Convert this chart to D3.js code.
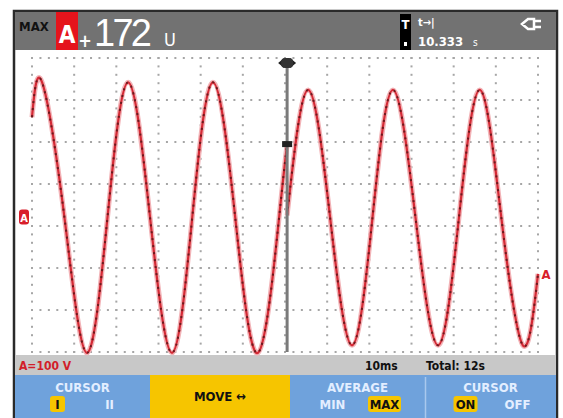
<!DOCTYPE html>
<html><head><meta charset="utf-8">
<script src="https://cdn.jsdelivr.net/npm/d3@7"></script>
<style>html,body{margin:0;padding:0;background:#fff;}svg{display:block;}</style>
</head><body>
<svg id="c" width="563" height="418"></svg>
<script>
// ---- data ----
// trace before the cursor (time in ms, voltage in V)
const traceA_t = [0, 2.4, 7.7, 13.0, 17.9, 22.8, 28.0, 33.2, 38.0, 42.9, 48.2, 53.6, 58.6, 60.5];
const traceA_v = [239, 322, 0, -322, 0, 322, 0, -322, 0, 322, 0, -322, 0, 175];
// trace after the cursor
const traceB_t = [60.5, 65.5, 70.7, 75.9, 80.75, 85.6, 90.95, 96.3, 101.25, 106.2, 111.3, 116.4, 120];
const traceB_v = [5, 304, 0, -304, 0, 304, 0, -304, 0, 304, 0, -304, -134];
const cursorTime = 60.5;
const timeTicks = [0,10,20,30,40,50,60,70,80,90,100,110,120];
const voltTicks = [380,280,180,80,-20,-120,-220,-320];
const headerLabels = {mode:"MAX", ch:"A", sign:"+", value:"172", unit:"U", tlabel:"t\u2192|", tvalue:"10.333", tunit:"s"};
const statusLabels = {scale:"A=100 V", timebase:"10ms", total:"Total: 12s"};
const softkeys = [
  {top:"CURSOR", opts:["I","II"], sel:0},
  {main:"MOVE \u2194"},
  {top:"AVERAGE", opts:["MIN","MAX"], sel:1},
  {top:"CURSOR", opts:["ON","OFF"], sel:0}
];

const svg = d3.select("#c");
const x = d3.scaleLinear().domain([0,120]).range([32,538]);
const y = d3.scaleLinear().domain([-320,380]).range([352,58]);

const F = "'DejaVu Sans Condensed','Liberation Sans Narrow',sans-serif";

// outer frame
svg.append("rect").attr("x",14).attr("y",11).attr("width",543).attr("height",410).attr("fill","#fff").attr("stroke","#2a2a2a").attr("stroke-width",2.5);
// header
svg.append("rect").attr("x",15).attr("y",12).attr("width",541).attr("height",38).attr("fill","#727272");
// status bar
svg.append("rect").attr("x",15).attr("y",355).attr("width",541).attr("height",20).attr("fill","#c8c8c8");
// softkey bar
const segs = [[15,150],[150,290],[290,425],[425,556]];
segs.forEach((s,i)=>{
  svg.append("rect").attr("x",s[0]).attr("y",375).attr("width",s[1]-s[0]).attr("height",43)
    .attr("fill", i===1 ? "#f6c500" : "#6fa2dc");
});
svg.append("line").attr("x1",425.5).attr("x2",425.5).attr("y1",377).attr("y2",418).attr("stroke","#a9c8ee").attr("stroke-width",1.5);

// grid dots
const g = svg.append("g");
const step = (x(10)-x(0))/5;
timeTicks.forEach(t=>{
  const xx = x(t);
  for(let yy=y(380); yy<=y(-320)+0.5; yy+= (y(280)-y(380))/5){
    g.append("rect").attr("x",xx-1).attr("y",yy-1).attr("width",2).attr("height",2).attr("fill","#a6a6a6");
  }
});
voltTicks.forEach(v=>{
  const yy = y(v);
  for(let xx=x(0); xx<=x(120)+0.5; xx+=step){
    g.append("rect").attr("x",xx-1).attr("y",yy-1).attr("width",2).attr("height",2).attr("fill","#a6a6a6");
  }
});

// traces
const line = d3.line().x(d=>x(d[0])).y(d=>y(d[1])).curve(d3.curveNatural);
const A = traceA_t.map((t,i)=>[t,traceA_v[i]]);
const B = traceB_t.map((t,i)=>[t,traceB_v[i]]);
[A,B].forEach(d=>{
  svg.append("path").attr("d",line(d)).attr("fill","none").attr("stroke","#f2b3b7").attr("stroke-width",5);
  svg.append("path").attr("d",line(d)).attr("fill","none").attr("stroke","#d42a35").attr("stroke-width",2.2);
  svg.append("path").attr("d",line(d)).attr("fill","none").attr("stroke","#6b1a1e").attr("stroke-width",2).attr("stroke-dasharray","2,5");
});

// cursor
const cx = x(cursorTime);
svg.append("line").attr("x1",cx).attr("x2",cx).attr("y1",y(380)+4).attr("y2",y(-320)).attr("stroke","#7a7a7a").attr("stroke-width",3);
svg.append("path").attr("d",`M${cx-9},${63} L${cx-3},${58} L${cx-3},${68} Z M${cx+9},${63} L${cx+3},${58} L${cx+3},${68} Z`).attr("fill","#222");
svg.append("rect").attr("x",cx-6).attr("y",58).attr("width",12).attr("height",10).attr("rx",4).attr("fill","#333");
svg.append("rect").attr("x",cx-5).attr("y",y(175)-3).attr("width",10).attr("height",6).attr("fill","#222");

// ground markers
svg.append("rect").attr("x",19).attr("y",y(0)-8).attr("width",10).attr("height",15).attr("rx",3).attr("fill","#d81e2a");
svg.append("text").attr("x",24).attr("y",y(0)+4).attr("text-anchor","middle").attr("font-family",F).attr("font-weight","bold").attr("font-size",11).attr("fill","#fff").text("A");
svg.append("text").attr("x",546).attr("y",y(-134)+5).attr("text-anchor","middle").attr("font-family",F).attr("font-weight","bold").attr("font-size",13).attr("fill","#d81e2a").text("A");

// header text
svg.append("text").attr("x",19).attr("y",31).attr("font-family",F).attr("font-weight","bold").attr("font-size",13).attr("fill","#111").text(headerLabels.mode);
svg.append("rect").attr("x",56).attr("y",12).attr("width",22).attr("height",38).attr("fill","#e5141c");
svg.append("text").attr("x",67).attr("y",43).attr("text-anchor","middle").attr("font-family",F).attr("font-weight","bold").attr("font-size",24).attr("fill","#fff").text(headerLabels.ch);
svg.append("text").attr("x",85).attr("y",47).attr("text-anchor","middle").attr("font-family",F).attr("font-weight","bold").attr("font-size",18).attr("fill","#fff").text(headerLabels.sign);
svg.append("text").attr("x",94).attr("y",46).attr("font-family","'Liberation Sans Narrow',sans-serif").attr("font-size",38).attr("fill","#fff").attr("textLength",58).text(headerLabels.value);
svg.append("text").attr("x",164).attr("y",46).attr("font-family",F).attr("font-size",18).attr("fill","#fff").text(headerLabels.unit);
svg.append("rect").attr("x",400).attr("y",14).attr("width",11).attr("height",36).attr("fill","#000");
svg.append("text").attr("x",405.5).attr("y",29).attr("text-anchor","middle").attr("font-family",F).attr("font-weight","bold").attr("font-size",13).attr("fill","#fff").text("T");
svg.append("rect").attr("x",404).attr("y",42).attr("width",3).attr("height",4).attr("fill","#fff");
svg.append("text").attr("x",418).attr("y",26).attr("font-family",F).attr("font-weight","bold").attr("font-size",11).attr("fill","#fff").text(headerLabels.tlabel);
svg.append("text").attr("x",418).attr("y",46).attr("font-family",F).attr("font-weight","bold").attr("font-size",13).attr("fill","#fff").text(headerLabels.tvalue);
svg.append("text").attr("x",473).attr("y",46).attr("font-family",F).attr("font-size",10).attr("fill","#fff").text(headerLabels.tunit);
// plug icon
svg.append("path").attr("d","M522,24 L528,19 L534,19 L534,29 L528,29 Z M534,21 L541,21 M534,27 L541,27").attr("fill","none").attr("stroke","#fff").attr("stroke-width",2.5);

// status text
svg.append("text").attr("x",19).attr("y",370).attr("font-family",F).attr("font-weight","bold").attr("font-size",12).attr("fill","#d21e2a").text(statusLabels.scale);
svg.append("text").attr("x",365).attr("y",370).attr("font-family",F).attr("font-weight","bold").attr("font-size",12).attr("fill","#111").text(statusLabels.timebase);
svg.append("text").attr("x",426).attr("y",370).attr("font-family",F).attr("font-weight","bold").attr("font-size",12).attr("fill","#111").text(statusLabels.total);

// softkey text
softkeys.forEach((k,i)=>{
  const s = segs[i], mid=(s[0]+s[1])/2;
  if(k.main){
    svg.append("text").attr("x",mid).attr("y",401).attr("text-anchor","middle").attr("font-family",F).attr("font-weight","bold").attr("font-size",13).attr("fill","#111").text(k.main);
    return;
  }
  svg.append("text").attr("x",mid).attr("y",392).attr("text-anchor","middle").attr("font-family",F).attr("font-weight","bold").attr("font-size",13).attr("fill","#e3eeff").text(k.top);
  const ox=[mid-25, mid+27];
  k.opts.forEach((o,j)=>{
    const w = o.length*9+6;
    if(j===k.sel){
      svg.append("rect").attr("x",ox[j]-w/2).attr("y",396).attr("width",w).attr("height",16).attr("rx",3).attr("fill","#f6c500");
    }
    svg.append("text").attr("x",ox[j]).attr("y",409).attr("text-anchor","middle").attr("font-family",F).attr("font-weight","bold").attr("font-size",13).attr("fill", j===k.sel?"#111":"#e3eeff").text(o);
  });
});
</script>
</body></html>
